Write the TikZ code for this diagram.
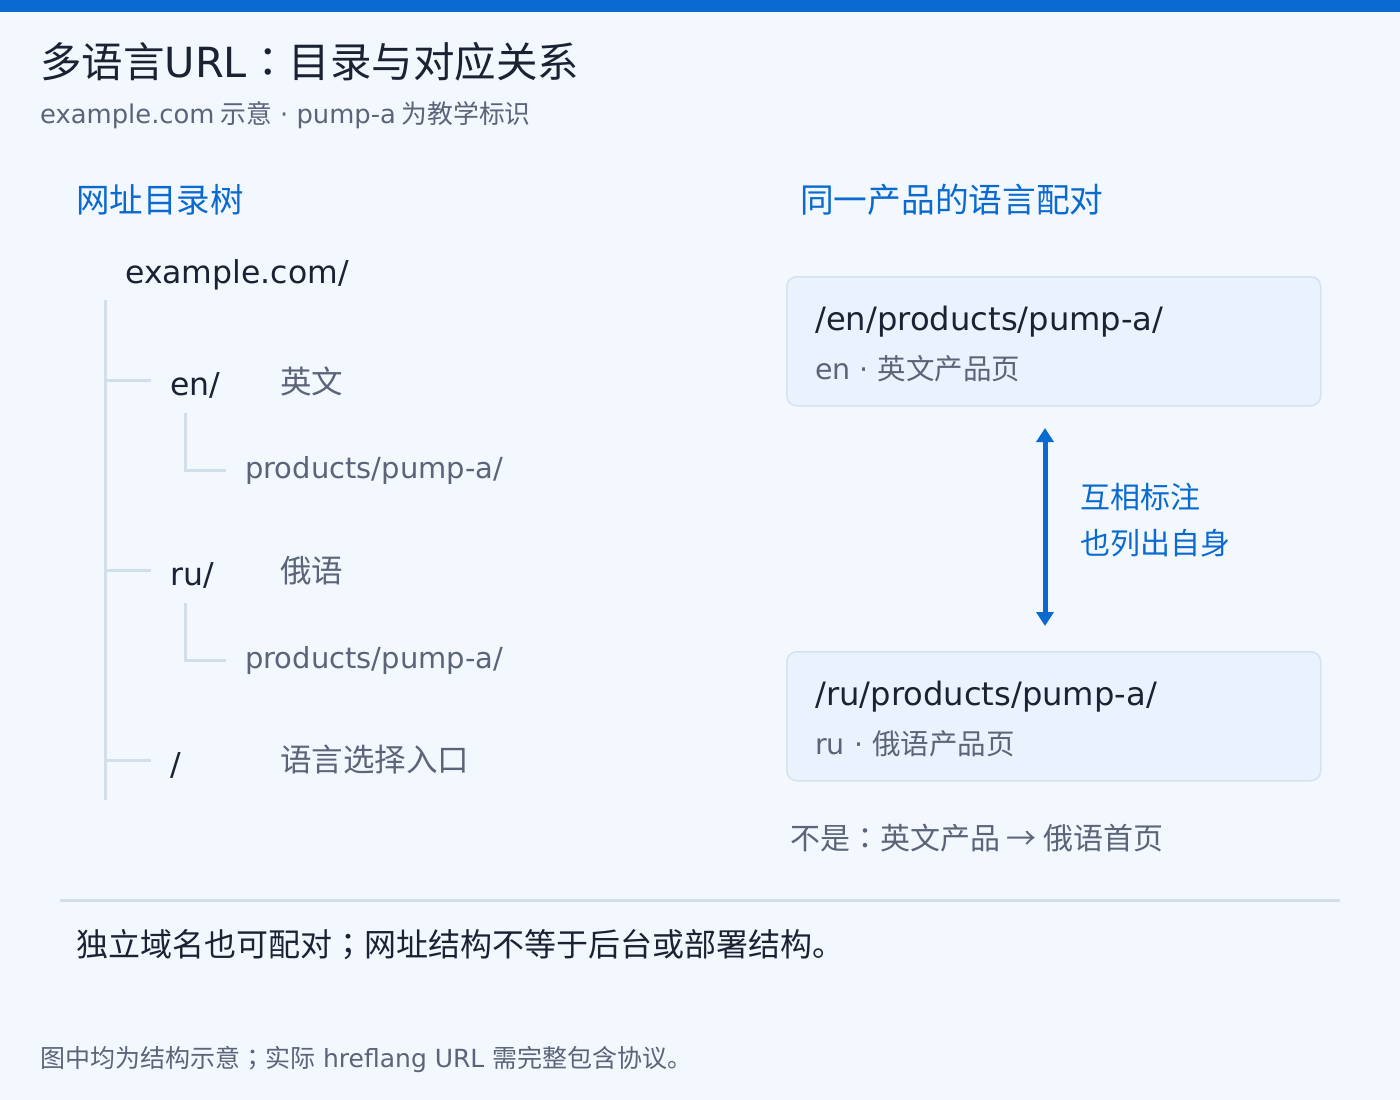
\documentclass[tikz,border=0pt]{standalone}
\usepackage{fontspec}
\setmainfont{Noto Sans CJK SC}
\newfontfamily\latfont{DejaVu Sans}
\newfontfamily\jpfont{Noto Sans CJK JP}
\newcommand\lat[1]{{\latfont #1}}
\newcommand\cpunct[1]{{\jpfont #1}}
\usetikzlibrary{arrows.meta,positioning}
\definecolor{barblue}{HTML}{0A6ACF}
\definecolor{pagebg}{HTML}{F3F8FE}
\definecolor{inkdark}{HTML}{1A2233}
\definecolor{inkgray}{HTML}{5B6478}
\definecolor{treeline}{HTML}{D3DEEB}
\definecolor{boxfill}{HTML}{EAF3FD}
\definecolor{boxline}{HTML}{D5E2F0}

\begin{document}
\begin{tikzpicture}[x=1pt,y=-1pt,
    txt/.style={anchor=west,inner sep=0pt},
    urlbox/.style={draw=boxline,fill=boxfill,line width=1.5pt,rounded corners=10pt,
        minimum width=534pt,minimum height=129pt,anchor=north west,inner sep=0pt},
    pair/.style={draw=barblue,line width=5pt,{Triangle[width=17pt,length=14pt]}-{Triangle[width=17pt,length=14pt]}},
    branch/.style={draw=treeline,line width=3pt}]
% page and top bar
\fill[pagebg] (0,0) rectangle (1400,1100);
\fill[barblue] (0,0) rectangle (1400,12);
\useasboundingbox (0,0) rectangle (1400,1100);
% title lines
\node[txt,text=inkdark,font=\fontsize{41.5}{48}\selectfont] (title) at (40,62) {多语言\lat{URL}\cpunct{：}目录与对应关系};
\node[txt,text=inkgray,font=\fontsize{25.8}{30}\selectfont] (subtitle) at (40,115) {\lat{example.com} 示意\lat{ · pump-a} 为教学标识};
%% left column: the tree
\node[txt,text=barblue,font=\fontsize{33.5}{38}\selectfont] (treehead) at (76,200) {网址目录树};
\node[txt,text=inkdark,font=\fontsize{31.5}{36}\selectfont] (root) at (125,275) {\lat{example.com/}};
\draw[branch] (105,300) -- (105,800);
\draw[branch] (105,380) -- (151,380);
\draw[branch] (105,570) -- (151,570);
\draw[branch] (105,760) -- (151,760);
\draw[branch] (185,413) -- (185,470) -- (226,470);
\draw[branch] (185,603) -- (185,660) -- (226,660);
\node[txt,text=inkdark,font=\fontsize{31.5}{36}\selectfont] (en) at (170,385) {\lat{en/}};
\node[txt,text=inkgray,font=\fontsize{31.5}{36}\selectfont] (enlbl) at (280,381) {英文};
\node[txt,text=inkgray,font=\fontsize{29}{34}\selectfont] (enprod) at (245,470) {\lat{products/pump-a/}};
\node[txt,text=inkdark,font=\fontsize{31.5}{36}\selectfont] (ru) at (170,575) {\lat{ru/}};
\node[txt,text=inkgray,font=\fontsize{31.5}{36}\selectfont] (rulbl) at (280,571) {俄语};
\node[txt,text=inkgray,font=\fontsize{29}{34}\selectfont] (ruprod) at (245,660) {\lat{products/pump-a/}};
\node[txt,text=inkdark,font=\fontsize{31.5}{36}\selectfont] (slash) at (170,765) {\lat{/}};
\node[txt,text=inkgray,font=\fontsize{31.5}{36}\selectfont] (pick) at (280,760) {语言选择入口};
%% right column: the pair
\node[txt,text=barblue,font=\fontsize{33.7}{38}\selectfont] (pairhead) at (800,200) {同一产品的语言配对};
\node[urlbox] (enbox) at (786,276) {};
\node[txt,text=inkdark,font=\fontsize{32.2}{38}\selectfont] (enurl) at (815,322) {\lat{/en/products/pump-a/}};
\node[txt,text=inkgray,font=\fontsize{28.5}{34}\selectfont] (entag) at (815,369) {\lat{en · }英文产品页};
\node[urlbox] (rubox) at (786,651) {};
\node[txt,text=inkdark,font=\fontsize{32.2}{38}\selectfont] (ruurl) at (815,697) {\lat{/ru/products/pump-a/}};
\node[txt,text=inkgray,font=\fontsize{28.5}{34}\selectfont] (rutag) at (815,744) {\lat{ru · }俄语产品页};
\coordinate (pairtop) at (1045,428);
\coordinate (pairbot) at (1045,626);
\draw[pair] (pairtop) -- (pairbot);
\node[txt,text=barblue,font=\fontsize{30}{34}\selectfont] (mutual) at (1080,497) {互相标注};
\node[txt,text=barblue,font=\fontsize{30}{34}\selectfont] (self) at (1080,543) {也列出自身};
\node[txt,text=inkgray,font=\fontsize{30}{34}\selectfont] (notthis) at (790,838) {不是\cpunct{：}英文产品 → 俄语首页};
%% bottom notes
\draw[draw=treeline,line width=3pt] (60,900) -- (1340,900);
\node[txt,text=inkdark,font=\fontsize{32}{36}\selectfont] (note) at (76,945) {独立域名也可配对\cpunct{；}网址结构不等于后台或部署结构。};
\node[txt,text=inkgray,font=\fontsize{25}{28}\selectfont] (foot) at (40,1059) {图中均为结构示意\cpunct{；}实际\lat{ hreflang URL }需完整包含协议。};
\end{tikzpicture}
\end{document}
